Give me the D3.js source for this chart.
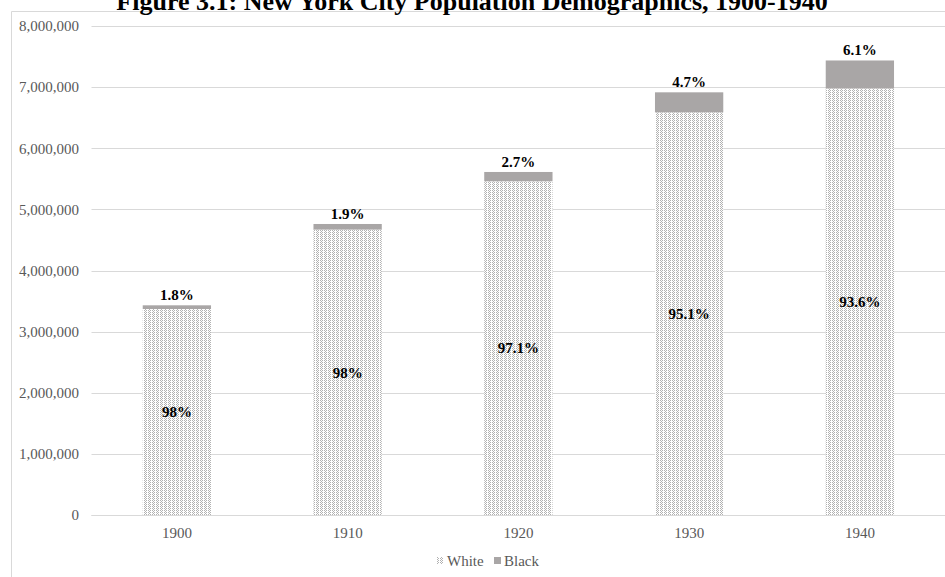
<!DOCTYPE html>
<html>
<head>
<meta charset="utf-8">
<script src="https://cdn.jsdelivr.net/npm/d3@7"></script>
<style>
  html, body { margin: 0; padding: 0; background: #fff; }
  svg { display: block; }
</style>
</head>
<body>
<svg id="chart" width="945" height="577"></svg>
<script>
// New York City census population by race, 1900-1940
const years = ["1900", "1910", "1920", "1930", "1940"];
const whitePop = [3369898, 4669162, 5459463, 6587225, 6977501];
const blackPop = [60666, 91709, 152467, 327706, 458444];
const whiteLabels = ["98%", "98%", "97.1%", "95.1%", "93.6%"];
const blackLabels = ["1.8%", "1.9%", "2.7%", "4.7%", "6.1%"];
const yTicks = [0, 1000000, 2000000, 3000000, 4000000, 5000000, 6000000, 7000000, 8000000];
const seriesNames = ["White", "Black"];

const titleText = "Figure 3.1: New York City Population Demographics, 1900-1940";
const serif = "'Liberation Serif', 'Times New Roman', serif";
const gridColor = "#d9d9d9";
const textGray = "#595959";
const blackFill = "#a9a6a6";

const svg = d3.select("#chart");

// dotted fill for the White series
const defs = svg.append("defs");
const pat = defs.append("pattern")
  .attr("id", "dots")
  .attr("patternUnits", "userSpaceOnUse")
  .attr("width", 4).attr("height", 2);
pat.append("rect").attr("width", 4).attr("height", 2).attr("fill", "#ffffff");
[[0, 0], [2, 0], [1, 1]].forEach(([px, py]) => {
  pat.append("rect").attr("x", px).attr("y", py)
    .attr("width", 1).attr("height", 1).attr("fill", "#b2b2b2");
});

// chart frame edges
svg.append("line").attr("x1", 11.5).attr("x2", 11.5).attr("y1", 11.5).attr("y2", 577)
  .attr("stroke", gridColor);
svg.append("line").attr("x1", 11.5).attr("x2", 945).attr("y1", 11.5).attr("y2", 11.5)
  .attr("stroke", gridColor);

const x = d3.scaleBand().domain(years).range([91.5, 945.25])
  .paddingInner(0.6).paddingOuter(0.3);
const y = d3.scaleLinear().domain([0, 8000000]).range([515, 26]);

// gridlines
svg.append("g").selectAll("line").data(yTicks).join("line")
  .attr("x1", 91.5).attr("x2", 945)
  .attr("y1", d => Math.round(y(d)) + 0.5).attr("y2", d => Math.round(y(d)) + 0.5)
  .attr("stroke", gridColor).attr("stroke-width", 1);

// y axis labels
const yAxis = d3.axisLeft(y).tickValues(yTicks).tickSize(0).tickPadding(0)
  .tickFormat(d3.format(","));
svg.append("g").attr("transform", "translate(79,0)").call(yAxis)
  .call(g => g.select(".domain").remove())
  .selectAll("text")
  .attr("font-family", serif).attr("font-size", 15).attr("fill", textGray);

// stacked bars
const rows = years.map((yr, i) => ({ yr, w: whitePop[i], b: blackPop[i], wl: whiteLabels[i], bl: blackLabels[i] }));

const bars = svg.append("g");
bars.selectAll("rect.white").data(rows).join("rect").attr("class", "white")
  .attr("x", d => x(d.yr)).attr("width", x.bandwidth())
  .attr("y", d => y(d.w)).attr("height", d => y(0) - y(d.w))
  .attr("fill", "url(#dots)");
bars.selectAll("rect.black").data(rows).join("rect").attr("class", "black")
  .attr("x", d => x(d.yr)).attr("width", x.bandwidth())
  .attr("y", d => y(d.w + d.b)).attr("height", d => y(d.w) - y(d.w + d.b))
  .attr("fill", blackFill);

// baseline
svg.append("line").attr("x1", 91.5).attr("x2", 945)
  .attr("y1", Math.round(y(0)) + 0.5).attr("y2", Math.round(y(0)) + 0.5)
  .attr("stroke", gridColor);

// data labels
const labels = svg.append("g").attr("font-family", serif).attr("font-size", 15)
  .attr("font-weight", "bold").attr("fill", "#000").attr("text-anchor", "middle");
labels.selectAll("text.wl").data(rows).join("text").attr("class", "wl")
  .attr("x", d => x(d.yr) + x.bandwidth() / 2)
  .attr("y", d => (y(0) + y(d.w)) / 2)
  .attr("dy", "0.35em")
  .text(d => d.wl);
labels.selectAll("text.bl").data(rows).join("text").attr("class", "bl")
  .attr("x", d => x(d.yr) + x.bandwidth() / 2)
  .attr("y", d => y(d.w + d.b) - 5)
  .text(d => d.bl);

// x axis labels
const xAxis = d3.axisBottom(x).tickSize(0).tickPadding(0);
svg.append("g").attr("transform", "translate(0,527)").call(xAxis)
  .call(g => g.select(".domain").remove())
  .selectAll("text")
  .attr("font-family", serif).attr("font-size", 15).attr("fill", textGray);

// legend
const legend = svg.append("g").attr("font-family", serif).attr("font-size", 15).attr("fill", textGray);
const legendItems = [
  { name: seriesNames[0], fill: "url(#dots)", sx: 437, tx: 447 },
  { name: seriesNames[1], fill: blackFill, sx: 494, tx: 504 }
];
legendItems.forEach(it => {
  legend.append("rect").attr("x", it.sx).attr("y", 557).attr("width", 7).attr("height", 7).attr("fill", it.fill);
  legend.append("text").attr("x", it.tx).attr("y", 566).text(it.name);
});

// title, running past the top edge of the page
svg.append("text").attr("x", 472).attr("y", 10)
  .attr("text-anchor", "middle")
  .attr("font-family", serif).attr("font-size", 26).attr("font-weight", "bold")
  .attr("fill", "#000")
  .text(titleText);
</script>
</body>
</html>
